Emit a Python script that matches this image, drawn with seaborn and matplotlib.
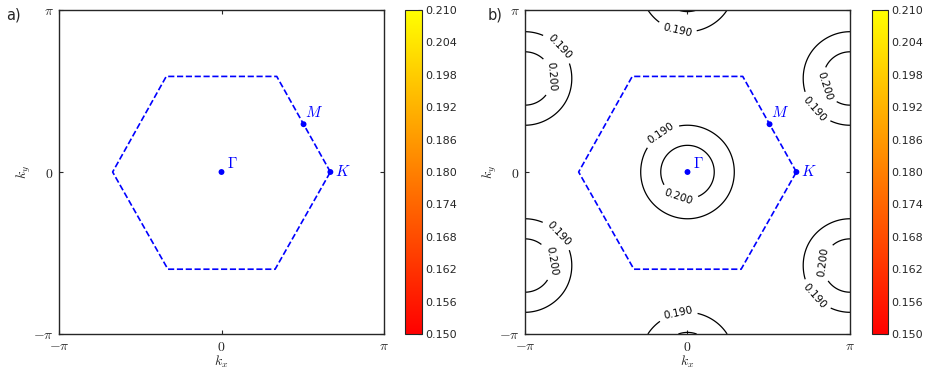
import numpy as np
import pandas as pd
import matplotlib
matplotlib.use("Agg")
import matplotlib.pyplot as plt
import seaborn as sns
from matplotlib.colors import Normalize
from matplotlib.cm import ScalarMappable

sns.set_style("ticks")
plt.rcParams["mathtext.fontset"] = "cm"
plt.rcParams["font.family"] = ["DejaVu Sans"]

PI = np.pi
# Brillouin-zone hexagon (in units of pi), closed path
hex_kx = [0.67, 0.34, -0.34, -0.67, -0.33, 0.33, 0.67]
hex_ky = [0.0, 0.59, 0.59, 0.0, -0.60, -0.60, 0.0]
# high-symmetry points (units of pi)
pt_names = [r"$\Gamma$", r"$M$", r"$K$"]
pt_kx = [0.0, 0.505, 0.67]
pt_ky = [0.0, 0.295, 0.0]
pt_offsets = [(4, 1), (1, 3), (3, 0)]
# colour-bar range and ticks
cbar_min, cbar_max = 0.150, 0.210
cbar_ticks = [0.150, 0.156, 0.162, 0.168, 0.174, 0.180, 0.186, 0.192, 0.198, 0.204, 0.210]
band_c0, band_c1 = 0.182, 0.0080
contour_levels = [0.190, 0.200]
label_pos = [(-0.066, 0.866), (-0.797, 0.766), (-0.828, 0.59), (-0.159, 0.231),
             (-0.058, -0.169), (0.84, 0.526), (0.778, 0.385), (-0.797, -0.385),
             (-0.836, -0.549), (0.84, -0.557), (0.778, -0.773), (-0.058, -0.877)]

W, H = 928, 369
fig = plt.figure(figsize=(W/100, H/100), dpi=100)

def px(l, t, w, h):
    return [l/W, 1 - (t + h)/H, w/W, h/H]

hex_df = pd.DataFrame({"kx": np.array(hex_kx)*PI, "ky": np.array(hex_ky)*PI})
pts_df = pd.DataFrame({"kx": np.array(pt_kx)*PI, "ky": np.array(pt_ky)*PI, "name": pt_names})

def draw_panel(ax, cax, contours):
    ax.set_xlim(-PI, PI)
    ax.set_ylim(-PI, PI)
    if contours:
        kx = np.linspace(-PI, PI, 500)
        ky = np.linspace(-PI, PI, 500)
        KX, KY = np.meshgrid(kx, ky)
        F = band_c0 + band_c1*(np.cos(2*KX) + 2*np.cos(KX)*np.cos(np.sqrt(3)*KY))
        cs = ax.contour(KX, KY, F, levels=contour_levels, colors="black", linewidths=0.9)
        ax.clabel(cs, fmt="%.3f", fontsize=7.5,
                  manual=[(x*PI, y*PI) for x, y in label_pos], inline=True)
    sns.lineplot(data=hex_df, x="kx", y="ky", sort=False, ax=ax, color="#0000ff",
                 linestyle="--", linewidth=1.2, estimator=None)
    sns.scatterplot(data=pts_df, x="kx", y="ky", ax=ax, color="#0000ff", s=18,
                    edgecolor="none", zorder=5)
    for n, x, y, off in zip(pt_names, pts_df["kx"], pts_df["ky"], pt_offsets):
        ax.annotate(n, (x, y), xytext=off, textcoords="offset points",
                    color="#0000ff", fontsize=11,
                    va="bottom" if off[1] > 0 else "center", ha="left")
    ax.set_xticks([-PI, 0, PI])
    ax.set_xticklabels([r"$-\pi$", r"$0$", r"$\pi$"])
    ax.set_yticks([-PI, 0, PI])
    ax.set_yticklabels([r"$-\pi$", r"$0$", r"$\pi$"])
    ax.tick_params(direction="in", length=3, labelsize=10, top=True, right=True, pad=4)
    ax.set_xlabel(r"$k_x$", fontsize=10, labelpad=0)
    ax.set_ylabel(r"$k_y$", fontsize=10, labelpad=0)
    for s in ax.spines.values():
        s.set_linewidth(1.0)
        s.set_visible(True)
    sm = ScalarMappable(norm=Normalize(cbar_min, cbar_max), cmap="autumn")
    cb = fig.colorbar(sm, cax=cax, ticks=cbar_ticks, format="%.3f")
    cb.ax.tick_params(direction="in", length=3, labelsize=8, pad=2)
    cb.outline.set_linewidth(0.8)
    return ax

ax_a = fig.add_axes(px(59, 10, 325, 324))
cax_a = fig.add_axes(px(405, 10, 17, 324))
ax_b = fig.add_axes(px(525, 10, 325, 324))
cax_b = fig.add_axes(px(872, 10, 16, 324))

draw_panel(ax_a, cax_a, False)
draw_panel(ax_b, cax_b, True)

fig.text(6/W, 1 - 15/H, "a)", fontsize=10.5, va="center", ha="left")
fig.text(488/W, 1 - 15/H, "b)", fontsize=10.5, va="center", ha="left")

fig.savefig("out.png", dpi=100, facecolor="white")
